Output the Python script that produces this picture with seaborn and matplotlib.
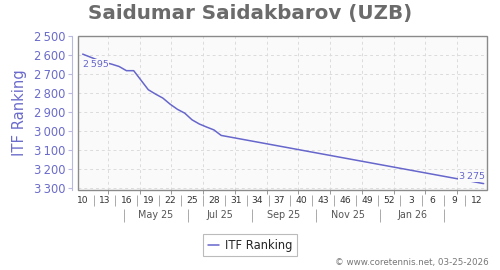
import matplotlib
matplotlib.use("Agg")
import matplotlib.pyplot as plt
import matplotlib.patches as mpatches
import seaborn as sns
import numpy as np
import pandas as pd

# ---- data ----
week_index = [0, 1, 2, 3, 4, 5, 6, 7, 8, 9, 10, 11, 12, 13, 14, 15, 16, 17, 18, 19, 55]
itf_rank = [2595, 2610, 2625, 2638, 2648, 2660, 2682, 2682, 2732, 2782, 2805, 2826,
            2858, 2885, 2905, 2940, 2962, 2978, 2993, 3022, 3275]
week_labels = ["10", "13", "16", "19", "22", "25", "28", "31", "34", "37", "40",
               "43", "46", "49", "52", "3", "6", "9", "12"]
month_labels = ["May 25", "Jul 25", "Sep 25", "Nov 25", "Jan 26"]
y_ticks = [2500, 2600, 2700, 2800, 2900, 3000, 3100, 3200, 3300]
title = "Saidumar Saidakbarov (UZB)"
series_name = "ITF Ranking"
footer = "\u00a9 www.coretennis.net, 03-25-2026"

df = pd.DataFrame({"week": week_index, series_name: itf_rank})

sns.set_theme(style="white")
plt.rcParams["font.family"] = ["DejaVu Sans"]

line_c = "#6666cc"
fig = plt.figure(figsize=(5, 2.7), dpi=100)
fig.patch.set_facecolor("white")
ax = fig.add_axes([0.156, 0.296, 0.818, 0.572])
ax.set_facecolor("#fafafa")

sns.lineplot(data=df, x="week", y=series_name, ax=ax, color=line_c, linewidth=1.1,
             label=series_name, legend=False)

ax.set_xlim(-0.64, 55.46)
ax.set_ylim(3309, 2498)

# grid
grid_x = np.arange(3.47, 55.4, 4.355)
for gx in grid_x:
    ax.axvline(gx, color="#dcdcdc", lw=0.7, ls=(0, (3, 3)), zorder=0)
for gy in y_ticks:
    ax.axhline(gy, color="#dcdcdc", lw=0.7, ls=(0, (3, 3)), zorder=0)

# frame
for s in ax.spines.values():
    s.set_visible(False)
ax.add_patch(mpatches.Rectangle((0, 0), 1, 1, transform=ax.transAxes, fill=False,
                                edgecolor="#8a8a8a", lw=1.0, clip_on=False, zorder=5))
ax.spines["left"].set_visible(True)
ax.spines["left"].set_position(("outward", 4))
ax.spines["left"].set_color("#b8b8e0")
ax.spines["left"].set_linewidth(0.8)

# y axis
ax.set_yticks(y_ticks)
ax.set_yticklabels([f"{v // 1000}\u2009{v % 1000:03d}" for v in y_ticks])
ax.tick_params(axis="y", colors="#b8b8e0", labelcolor="#6b6bcc", labelsize=8.3,
               length=3, width=0.8, pad=2, left=True)
ax.set_ylabel(series_name, color="#6b6bcc", fontsize=10.6, labelpad=5)
ax.set_xlabel("")

# x axis: ticks at grid positions, custom label rows
ax.set_xticks(grid_x)
ax.set_xticklabels([])
ax.tick_params(axis="x", colors="#999999", length=3, width=0.7, bottom=True)

xt = ax.get_xaxis_transform()
week_pos = np.arange(0, 3 * len(week_labels), 3)
for p, lab in zip(week_pos, week_labels):
    ax.text(p, -0.066, lab, transform=xt, ha="center", va="center",
            fontsize=6.6, color="#333333")
for p in week_pos[:-1] + 1.5:
    ax.vlines(p, -0.105, -0.03, transform=xt, colors="#aaaaaa", lw=0.7, clip_on=False)

month_sep = 5.67 + 8.78 * np.arange(len(month_labels) + 1)
ax.vlines(month_sep, -0.205, -0.125, transform=xt, colors="#aaaaaa", lw=0.7, clip_on=False)
for i, lab in enumerate(month_labels):
    ax.text((month_sep[i] + month_sep[i + 1]) / 2, -0.163, lab, transform=xt,
            ha="center", va="center", fontsize=6.9, color="#555555")

# annotations for first and last values
box = dict(boxstyle="square,pad=0.1", fc="#fafafa", ec="none")
ax.annotate(f"{itf_rank[0] // 1000}\u2009{itf_rank[0] % 1000:03d}",
            xy=(week_index[0], itf_rank[0]), xytext=(0, -4), textcoords="offset points",
            ha="left", va="top", fontsize=6.8, color=line_c, bbox=box, zorder=6)
ax.annotate(f"{itf_rank[-1] // 1000}\u2009{itf_rank[-1] % 1000:03d}",
            xy=(week_index[-1], itf_rank[-1]), xytext=(1, 2), textcoords="offset points",
            ha="right", va="bottom", fontsize=6.8, color=line_c, bbox=box, zorder=6)

fig.suptitle(title, x=0.5, y=0.985, fontsize=14.3, fontweight="bold", color="#6b6b6b")

handle = plt.Line2D([], [], color=line_c, lw=1.1)
leg = fig.legend([handle], [series_name], loc="center", bbox_to_anchor=(0.5, 0.092),
                 fontsize=8.3, frameon=True, fancybox=False, edgecolor="#aaaaaa",
                 handlelength=1.0, handletextpad=0.5, borderpad=0.4)
leg.get_frame().set_linewidth(0.8)

fig.text(0.978, 0.027, footer, ha="right", va="center", fontsize=6.3, color="#777777")

fig.savefig("out.png", dpi=100, facecolor="white")
